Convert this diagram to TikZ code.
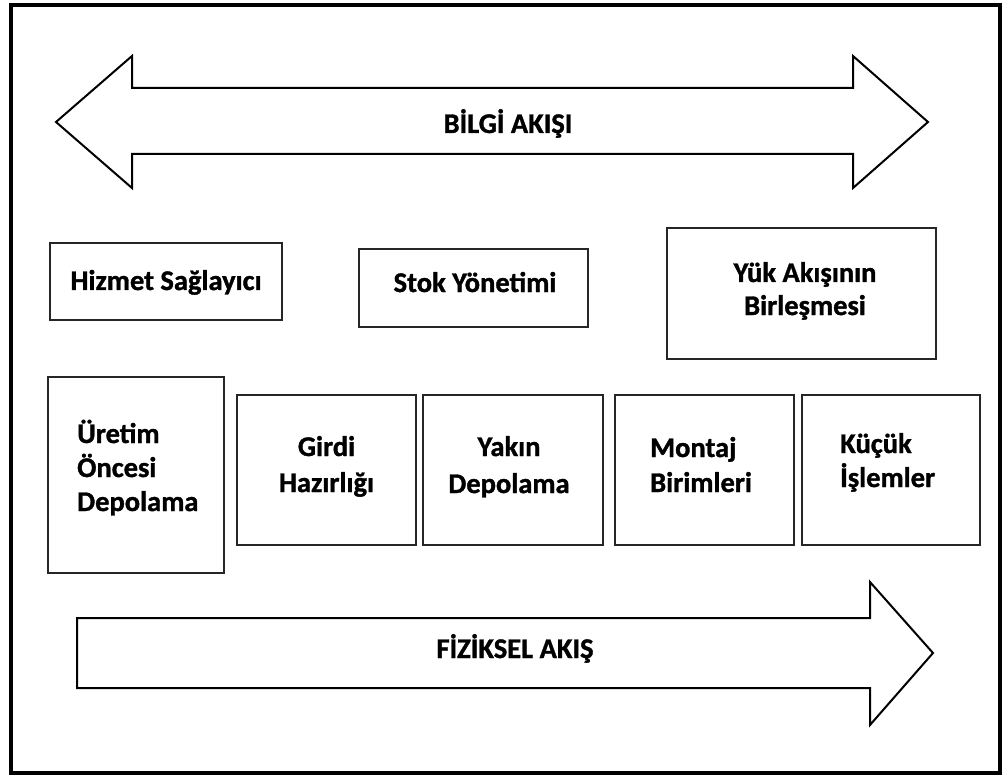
\documentclass[tikz,border=0pt]{standalone}
\usepackage{fontspec}
\setmainfont{Carlito}[BoldFeatures={FakeBold=1.2}]
\begin{document}
\begin{tikzpicture}[x=1pt,y=-1pt,
  lbl/.style={font=\bfseries\fontsize{28.5}{35}\selectfont, inner sep=0pt, text=black},
  boxnode/.style={draw=black!85, line width=1.4pt, inner sep=0pt},
  flowarrow/.style={draw=black, line width=2pt, line join=miter, fill=white}]
\useasboundingbox (0,0) rectangle (1007,778);
% outer frame
\draw[line width=4.5pt] (11,5) rectangle (1000,773);
% information flow double arrow
\draw[flowarrow] (56,122) -- (132,56) -- (132,88) -- (853,88) -- (853,56) -- (928,122)
  -- (853,188) -- (853,154) -- (132,154) -- (132,188) -- cycle;
\node[lbl, anchor=base] (bilgi) at (508,133) {BİLGİ AKIŞI};
% physical flow arrow
\draw[flowarrow] (77,618) -- (870,618) -- (870,582) -- (933,653) -- (870,725)
  -- (870,688) -- (77,688) -- cycle;
\node[lbl, anchor=base] (fiziksel) at (515,658) {FİZİKSEL AKIŞ};
% boxes
\node[boxnode, minimum width=232pt, minimum height=77pt] (hizmet) at (166,281.5) {};
\node[boxnode, minimum width=229pt, minimum height=78pt] (stok) at (473.5,288) {};
\node[boxnode, minimum width=269pt, minimum height=131pt] (yuk) at (801.5,293.5) {};
\node[boxnode, minimum width=176pt, minimum height=196pt] (uretim) at (136,475) {};
\node[boxnode, minimum width=179pt, minimum height=150pt] (girdi) at (326.5,470) {};
\node[boxnode, minimum width=180pt, minimum height=150pt] (yakin) at (513,470) {};
\node[boxnode, minimum width=179pt, minimum height=150pt] (montaj) at (704.5,470) {};
\node[boxnode, minimum width=178pt, minimum height=150pt] (kucuk) at (891,470) {};
% labels (base = baseline of the last line)
\node[lbl, anchor=base] (thizmet) at (166,290) {Hizmet Sağlayıcı};
\node[lbl, anchor=base] (tstok) at (475,292) {Stok Yönetimi};
\node[lbl, anchor=base, align=center] (tyuk) at (805,315) {Yük Akışının\\[-2pt]Birleşmesi};
\node[lbl, anchor=base west, align=left] (turetim) at (77,511) {Üretim\\[-1pt]Öncesi\\[-1pt]Depolama};
\node[lbl, anchor=base, align=center] (tgirdi) at (326.5,492) {Girdi\\[1pt]Hazırlığı};
\node[lbl, anchor=base, align=center] (tyakin) at (509,493) {Yakın\\[2pt]Depolama};
\node[lbl, anchor=base west, align=left] (tmontaj) at (650,492) {Montaj\\Birimleri};
\node[lbl, anchor=base west, align=left] (tkucuk) at (840,487) {Küçük\\[-1pt]İşlemler};
\end{tikzpicture}
\end{document}
